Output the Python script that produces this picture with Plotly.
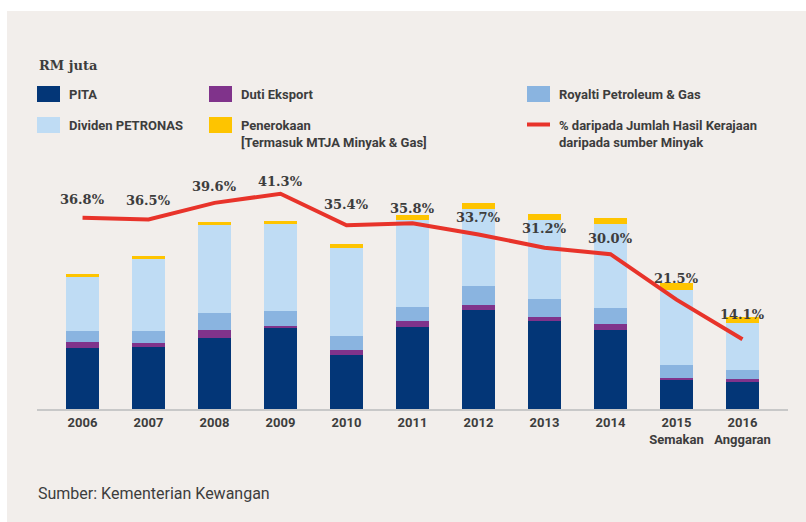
import plotly.graph_objects as go

# ---------------- data (RM juta) ----------------
years = ["2006", "2007", "2008", "2009", "2010", "2011", "2012", "2013", "2014",
         "2015<br>Semakan", "2016<br>Anggaran"]
pita = [24400, 24800, 28400, 32400, 21600, 32800, 39600, 35200, 31600, 11600, 10800]
duti_eksport = [2400, 1600, 3200, 800, 2000, 2400, 2000, 1600, 2400, 800, 1200]
royalti = [4400, 4800, 6800, 6000, 5600, 5600, 7600, 7200, 6400, 5200, 3600]
dividen = [21600, 28800, 35200, 34800, 35200, 34800, 30800, 31600, 33600, 30000, 18800]
penerokaan = [1200, 1200, 1200, 1200, 1600, 2000, 2400, 2400, 2400, 2800, 2400]
peratus = [36.8, 36.5, 39.6, 41.3, 35.4, 35.8, 33.7, 31.2, 30.0, 21.5, 14.1]

# ---------------- style ----------------
W, H = 806, 522
L, R, T, B = 37, 788, 170, 409        # plot area in pixels
BG = "#f2eeeb"
TXT = "#3d3d3d"
C_PITA = "#033677"
C_DUTI = "#80338b"
C_ROY = "#8ab4e0"
C_DIV = "#bfdcf4"
C_PEN = "#fec400"
C_LINE = "#e8332a"
SANS = "Roboto"
SERIF = "DejaVu Serif"
label_shift = [18, 19, 16, 12, 21, 15, 17, 19, 16, 21, 25]


def xp(px):
    return (px - L) / (R - L)


def yp(py):
    return (B - py) / (B - T)


fig = go.Figure()
series = [("PITA", pita, C_PITA), ("Duti Eksport", duti_eksport, C_DUTI),
          ("Royalti Petroleum & Gas", royalti, C_ROY),
          ("Dividen PETRONAS", dividen, C_DIV),
          ("Penerokaan [Termasuk MTJA Minyak & Gas]", penerokaan, C_PEN)]
for name, vals, col in series:
    fig.add_trace(go.Bar(x=years, y=vals, name=name, marker_color=col,
                         marker_line_width=0, showlegend=False))

fig.add_trace(go.Scatter(x=years, y=peratus, yaxis="y2", mode="lines",
                         line=dict(color=C_LINE, width=4), showlegend=False,
                         name="% daripada Jumlah Hasil Kerajaan daripada sumber Minyak"))

annotations = []
for i, (v, s) in enumerate(zip(peratus, label_shift)):
    annotations.append(dict(x=i, y=v, xref="x", yref="y2", yshift=s,
                            text=f"{v:.1f}%", showarrow=False,
                            font=dict(family=SERIF, size=13, color=TXT, weight="bold"),
                            xanchor="center", yanchor="middle"))

# title
annotations.append(dict(x=xp(37), y=yp(65), xref="paper", yref="paper",
                        text="RM juta", showarrow=False, xanchor="left", yanchor="middle",
                        font=dict(family=SERIF, size=13, color=TXT, weight="bold")))
# source
annotations.append(dict(x=xp(36), y=yp(493), xref="paper", yref="paper",
                        text="Sumber: Kementerian Kewangan", showarrow=False,
                        xanchor="left", yanchor="middle",
                        font=dict(family=SANS, size=16, color=TXT)))

# legend (manual)
shapes = [dict(type="rect", xref="paper", yref="paper", x0=xp(7), x1=xp(806),
               y0=yp(522), y1=yp(11), fillcolor=BG, line_width=0, layer="below")]
legend_items = [
    (37, 94, C_PITA, "PITA", "rect"),
    (209, 94, C_DUTI, "Duti Eksport", "rect"),
    (527, 94, C_ROY, "Royalti Petroleum & Gas", "rect"),
    (37, 125, C_DIV, "Dividen PETRONAS", "rect"),
    (209, 125, C_PEN, "Penerokaan<br>[Termasuk MTJA Minyak & Gas]", "rect"),
    (527, 125, C_LINE, "% daripada Jumlah Hasil Kerajaan<br>daripada sumber Minyak", "line"),
]
for x0, yc, col, text, kind in legend_items:
    if kind == "rect":
        shapes.append(dict(type="rect", xref="paper", yref="paper",
                           x0=xp(x0), x1=xp(x0 + 23), y0=yp(yc - 8), y1=yp(yc + 8),
                           fillcolor=col, line_width=0))
    else:
        shapes.append(dict(type="line", xref="paper", yref="paper",
                           x0=xp(x0), x1=xp(x0 + 23), y0=yp(yc - 0.5), y1=yp(yc - 0.5),
                           line=dict(color=col, width=4)))
    multi = "<br>" in text
    annotations.append(dict(x=xp(x0 + 30), y=yp(yc - 9) if multi else yp(yc),
                            xref="paper", yref="paper", text=text, showarrow=False,
                            xanchor="left", yanchor="top" if multi else "middle",
                            align="left",
                            font=dict(family=SANS, size=13, color=TXT, weight="bold")))

fig.update_layout(
    width=W, height=H,
    margin=dict(l=L, r=W - R, t=T, b=H - B, pad=0),
    paper_bgcolor="white", plot_bgcolor=BG,
    barmode="stack", bargap=0.5,
    hovermode=False,
    xaxis=dict(type="category", range=[-0.69, 10.69], showline=True,
               linecolor="#c8c8c8", linewidth=2,
               showgrid=False, zeroline=False, ticks="",
               tickfont=dict(family=SANS, size=13, color=TXT, weight="bold")),
    yaxis=dict(range=[0, 95600], visible=False, showgrid=False, zeroline=False),
    yaxis2=dict(range=[1.07, 45.74], overlaying="y", visible=False, showgrid=False,
                zeroline=False),
    shapes=shapes, annotations=annotations, showlegend=False,
)

fig.write_html("out.html", config={"displayModeBar": False},
               post_script="document.body.style.margin='0';document.body.style.overflow='hidden';")
